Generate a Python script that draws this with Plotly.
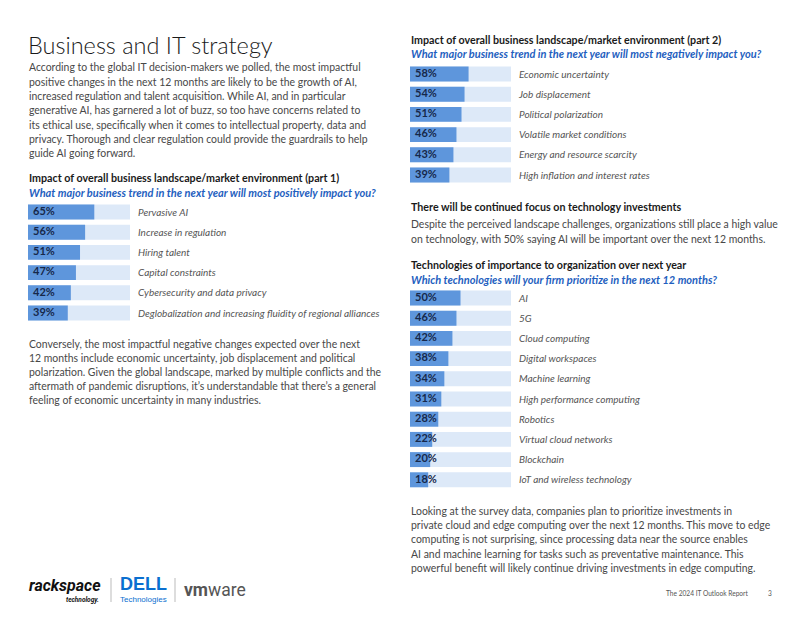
import plotly.graph_objects as go

OFF = 8  # default page body margin
W, H = 802 - OFF, 620 - OFF

# ---------------- data ----------------
pos_labels = ["Pervasive AI", "Increase in regulation", "Hiring talent", "Capital constraints",
              "Cybersecurity and data privacy", "Deglobalization and increasing fluidity of regional alliances"]
pos_values = [65, 56, 51, 47, 42, 39]

neg_labels = ["Economic uncertainty", "Job displacement", "Political polarization",
              "Volatile market conditions", "Energy and resource scarcity", "High inflation and interest rates"]
neg_values = [58, 54, 51, 46, 43, 39]

tech_labels = ["AI", "5G", "Cloud computing", "Digital workspaces", "Machine learning",
               "High performance computing", "Robotics", "Virtual cloud networks", "Blockchain",
               "IoT and wireless technology"]
tech_values = [50, 46, 42, 38, 34, 31, 28, 22, 20, 18]

# ---------------- style ----------------
FONT = "Lato"
BAR = "#5e96dc"
TRACK = "#dde9f8"
PCT = "#16284a"
LABEL = "#555555"
BODY = "#484848"
HEAD = "#1a1a1a"
QBLUE = "#1f5fc0"
HSIZE = 10.7


def px(x):
    return (x - OFF) / W


def py(y):
    return 1 - (y - OFF) / H


fig = go.Figure()

charts = [
    (pos_labels, pos_values, 28, 130, 201.9, 323.1),
    (neg_labels, neg_values, 410, 511, 63.9, 185.1),
    (tech_labels, tech_values, 410, 511, 287.9, 489.9),
]

for i, (labels, values, x0, x1, yt, yb) in enumerate(charts):
    n = i + 1
    xa = "x" if n == 1 else f"x{n}"
    ya = "y" if n == 1 else f"y{n}"
    fig.add_trace(go.Bar(x=[100] * len(labels), y=labels, orientation="h",
                         marker=dict(color=TRACK, line=dict(width=0)), width=0.74,
                         xaxis=xa, yaxis=ya, hoverinfo="skip", showlegend=False))
    fig.add_trace(go.Bar(x=values, y=labels, orientation="h",
                         marker=dict(color=BAR, line=dict(width=0)), width=0.74,
                         xaxis=xa, yaxis=ya, showlegend=False))
    fig.add_trace(go.Scatter(x=[5] * len(labels), y=labels, mode="text",
                             text=[f"<b>{v}%</b>" for v in values],
                             textposition="middle right",
                             textfont=dict(family=FONT, size=11, color=PCT),
                             xaxis=xa, yaxis=ya, cliponaxis=False, showlegend=False,
                             hoverinfo="skip"))
    fig.layout[f"xaxis{'' if n == 1 else n}"] = dict(
        domain=[px(x0), px(x1)], range=[0, 100], visible=False, fixedrange=True,
        anchor=ya)
    fig.layout[f"yaxis{'' if n == 1 else n}"] = dict(
        domain=[py(yb), py(yt)], anchor=xa, side="right", type="category",
        range=[len(labels) - 0.5, -0.5], showgrid=False, zeroline=False, showline=False,
        ticks="", ticklabelstandoff=7,
        tickfont=dict(family=FONT, size=10, color=LABEL, style="italic"),
        fixedrange=True)

fig.update_layout(barmode="overlay")

ann = []


def text(x, y, s, size=10.45, color=BODY, weight="normal", style="normal", xanchor="left",
         yanchor="middle", family=FONT):
    ann.append(dict(x=px(x - 1.5 if xanchor == "left" else x), y=py(y), xref="paper", yref="paper",
                    text=s, showarrow=False, xanchor=xanchor, yanchor=yanchor, align="left",
                    font=dict(family=family, size=size, color=color, weight=weight, style=style)))


def para(x, ys, lines):
    for y, s in zip(ys, lines):
        text(x, y, s)


text(27, 45, "Business and IT strategy", size=23.5, color=HEAD, weight=300)

p1 = ["According to the global IT decision-makers we polled, the most impactful",
      "positive changes in the next 12 months are likely to be the growth of AI,",
      "increased regulation and talent acquisition. While AI, and in particular",
      "generative AI, has garnered a lot of buzz, so too have concerns related to",
      "its ethical use, specifically when it comes to intellectual property, data and",
      "privacy. Thorough and clear regulation could provide the guardrails to help",
      "guide AI going forward."]
para(28, [67, 81.5, 96, 110, 124.5, 139, 153], p1)

text(28, 177, "<b>Impact of overall business landscape/market environment (part 1)</b>", size=HSIZE, color=HEAD)
text(28, 192, "<b><i>What major business trend in the next year will most positively impact you?</i></b>",
     size=11, color=QBLUE)

p2 = ["Conversely, the most impactful negative changes expected over the next",
      "12 months include economic uncertainty, job displacement and political",
      "polarization. Given the global landscape, marked by multiple conflicts and the",
      "aftermath of pandemic disruptions, it\u2019s understandable that there\u2019s a general",
      "feeling of economic uncertainty in many industries."]
para(28, [344, 358, 372, 386, 400], p2)

text(410, 39, "<b>Impact of overall business landscape/market environment (part 2)</b>", size=HSIZE, color=HEAD)
text(410, 54, "<b><i>What major business trend in the next year will most negatively impact you?</i></b>",
     size=11, color=QBLUE)

text(410, 207, "<b>There will be continued focus on technology investments</b>", size=HSIZE, color=HEAD)
p3 = ["Despite the perceived landscape challenges, organizations still place a high value",
      "on technology, with 50% saying AI will be important over the next 12 months."]
para(410, [224, 239], p3)

text(410, 264, "<b>Technologies of importance to organization over next year</b>", size=HSIZE, color=HEAD)
text(410, 279, "<b><i>Which technologies will your firm prioritize in the next 12 months?</i></b>",
     size=11, color=QBLUE)

p4 = ["Looking at the survey data, companies plan to prioritize investments in",
      "private cloud and edge computing over the next 12 months. This move to edge",
      "computing is not surprising, since processing data near the source enables",
      "AI and machine learning for tasks such as preventative maintenance. This",
      "powerful benefit will likely continue driving investments in edge computing."]
para(410, [511, 525, 539, 553.5, 568], p4)

text(750, 593, "The 2024 IT Outlook Report", size=6.6, color="#555555", xanchor="right")
text(767, 593, "3", size=6.6, color="#555555")

# logos as text
text(28, 585, "<b><i>rackspace</i></b>", size=16, color="#111111", family="Roboto")
text(101, 599.5, "<b><i>technology.</i></b>", size=6.5, color="#111111", xanchor="right", family="Roboto")
text(143, 584, "<b>DELL</b>", size=18, color="#0a6fd0", xanchor="center", family="Liberation Sans")
text(143, 599, "Technologies", size=8, color="#0a6fd0", xanchor="center", family="Liberation Sans")
text(183, 590, "<b>vm</b>ware", size=17.5, color="#555555", family="Roboto")

fig.update_layout(
    annotations=ann,
    shapes=[
        dict(type="line", xref="paper", yref="paper", x0=px(111), x1=px(111), y0=py(578), y1=py(602),
             line=dict(color="#bbbbbb", width=1)),
        dict(type="line", xref="paper", yref="paper", x0=px(175), x1=px(175), y0=py(578), y1=py(602),
             line=dict(color="#bbbbbb", width=1)),
    ],
    width=W, height=H, margin=dict(l=0, r=0, t=0, b=0),
    paper_bgcolor="white", plot_bgcolor="white",
    font=dict(family=FONT, size=11, color=BODY),
    showlegend=False,
)

fig.write_html("out.html", config={"displayModeBar": False})
